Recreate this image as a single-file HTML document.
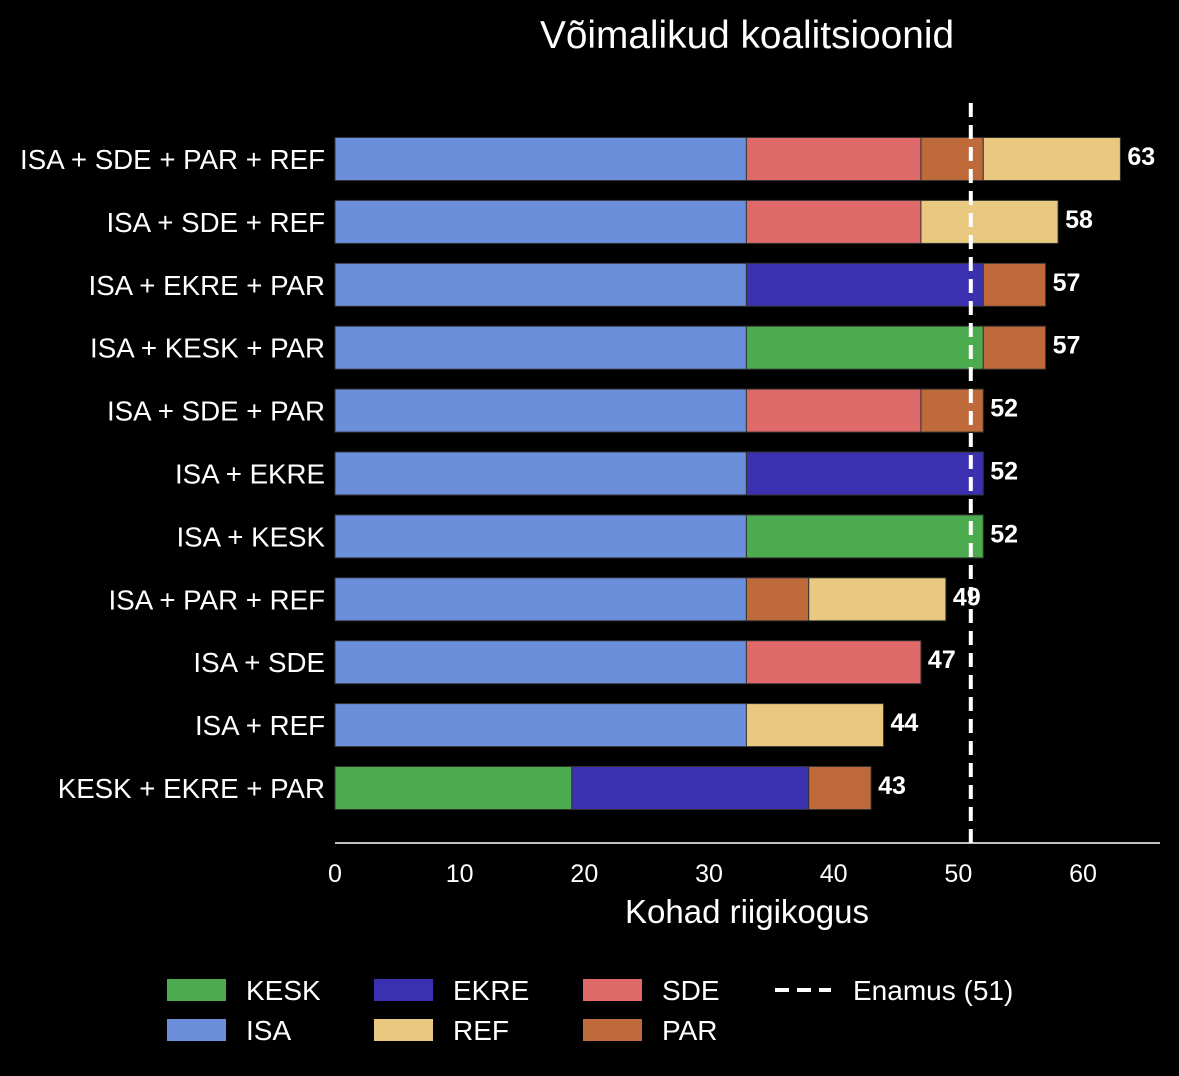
<!DOCTYPE html>
<html><head><meta charset="utf-8"><style>
html,body{margin:0;padding:0;background:#000;}
svg{display:block;font-family:"Liberation Sans",Arial,sans-serif;}
</style></head><body>
<svg id="chart" width="1179" height="1076" viewBox="0 0 1179 1076" xmlns="http://www.w3.org/2000/svg">
<rect width="1179" height="1076" fill="#000"/>
<text x="747" y="48" fill="#fff" font-size="38.8" text-anchor="middle">Võimalikud koalitsioonid</text>
<g id="plot"></g>
</svg>
<script>
const categories = ["ISA + SDE + PAR + REF","ISA + SDE + REF","ISA + EKRE + PAR","ISA + KESK + PAR","ISA + SDE + PAR","ISA + EKRE","ISA + KESK","ISA + PAR + REF","ISA + SDE","ISA + REF","KESK + EKRE + PAR"];
const compositions = [["ISA","SDE","PAR","REF"],["ISA","SDE","REF"],["ISA","EKRE","PAR"],["ISA","KESK","PAR"],["ISA","SDE","PAR"],["ISA","EKRE"],["ISA","KESK"],["ISA","PAR","REF"],["ISA","SDE"],["ISA","REF"],["KESK","EKRE","PAR"]];
const partyNames = ["KESK","ISA","EKRE","REF","SDE","PAR"];
const partySeats = [19,33,19,11,14,5];
const partyColors = ["#4caa4f","#6b8fdb","#3b30b0","#e8c97f","#e06a6a","#bf6a3a"];
const xTicks = [0,10,20,30,40,50,60];
const majority = 51;

const svg = document.getElementById('plot');
const NS = 'http://www.w3.org/2000/svg';
const x0 = 335, pxPer = 748/60;
const xs = v => x0 + v*pxPer;
const yc = i => 159 + i*62.9;
const barH = 43;
function mk(tag, attrs){const e=document.createElementNS(NS,tag);for(const k in attrs)e.setAttribute(k,attrs[k]);svg.appendChild(e);return e;}

categories.forEach((cat,i)=>{
  let acc=0;
  compositions[i].forEach(p=>{
    const pi=partyNames.indexOf(p), v=partySeats[pi];
    const r=mk('rect',{x:xs(acc),y:yc(i)-barH/2,width:xs(acc+v)-xs(acc),height:barH,fill:partyColors[pi],stroke:'#333',"stroke-width":1});
    
    
    acc+=v;
  });
  const lab=mk('text',{x:325,y:yc(i)+10,fill:'#fff','font-size':27.7,'text-anchor':'end'});
  lab.textContent=cat;
  
  
  const val=mk('text',{x:xs(acc)+7,y:yc(i)+6,fill:'#fff','font-size':25,'font-weight':'bold'});
  val.textContent=acc;
  
  
});

const ax=mk('line',{x1:335,y1:843,x2:1160,y2:843,stroke:'#fff','stroke-width':1.5});


xTicks.forEach(t=>{
  const tk=mk('text',{x:xs(t),y:882,fill:'#fff','font-size':25,'text-anchor':'middle'});
  tk.textContent=t;
  
  
});
const xt=mk('text',{x:747,y:923,fill:'#fff','font-size':33,'text-anchor':'middle'});
xt.textContent='Kohad riigikogus';



const ml=mk('line',{x1:xs(majority),y1:103,x2:xs(majority),y2:843,stroke:'#fff','stroke-width':4,'stroke-dasharray':'14,8'});



// legend
const legCols=[167,374,583];
partyNames.forEach((p,k)=>{
  const col=Math.floor(k/2), row=k%2;
  const y=990+row*40;
  const r=mk('rect',{x:legCols[col],y:y-11,width:59,height:22,fill:partyColors[k]});
  
  
  const t=mk('text',{x:legCols[col]+79,y:y+10,fill:'#fff','font-size':28});
  t.textContent=p;
  
  
});
const ll=mk('line',{x1:775,y1:990,x2:831,y2:990,stroke:'#fff','stroke-width':4,'stroke-dasharray':'14,8'});


const lt=mk('text',{x:853,y:1000,fill:'#fff','font-size':28});
lt.textContent='Enamus ('+majority+')';


</script>
</body></html>
